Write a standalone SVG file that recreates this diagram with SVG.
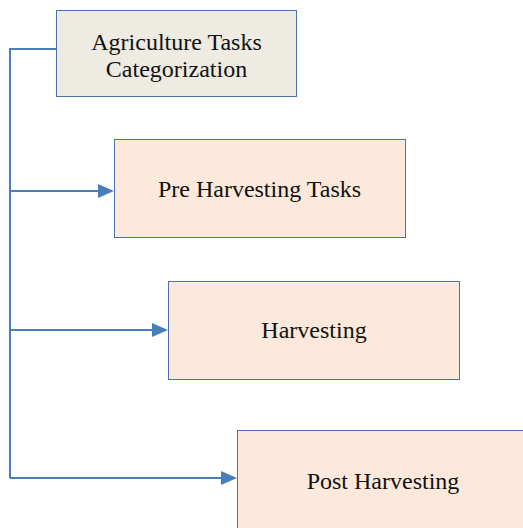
<svg xmlns="http://www.w3.org/2000/svg" width="523" height="528" viewBox="0 0 523 528">
  <style>
    .box { stroke: #4A72AE; stroke-width: 1; }
    .root { fill: #EDEBE2; }
    .task { fill: #FCE9DB; }
    .label { font-family: "Liberation Serif", "Times New Roman", serif; font-size: 24px; fill: #111; text-anchor: middle; }
    .wire { fill: none; stroke: #4A7EBB; stroke-width: 2; }
    .head { fill: #4A7EBB; }
  </style>
  <rect width="523" height="528" fill="#FFFFFF"/>

  <g id="connectors">
    <path class="wire" d="M56,49 H10 V478"/>
    <path class="wire" d="M10,191 H98"/>
    <path class="head" d="M98,184 L114,191 L98,198 z"/>
    <path class="wire" d="M10,330 H152"/>
    <path class="head" d="M152,323 L168,330 L152,337 z"/>
    <path class="wire" d="M10,478 H221"/>
    <path class="head" d="M221,471 L237,478 L221,485 z"/>
  </g>

  <g id="root">
    <rect class="box root" x="56.5" y="10.5" width="240" height="86"/>
    <text class="label" x="176.5" y="50">Agriculture Tasks</text>
    <text class="label" x="176.5" y="77">Categorization</text>
  </g>

  <g id="pre-harvesting">
    <rect class="box task" x="114.5" y="139.5" width="291" height="98"/>
    <text class="label" x="259.5" y="197">Pre Harvesting Tasks</text>
  </g>

  <g id="harvesting">
    <rect class="box task" x="168.5" y="281.5" width="291" height="98"/>
    <text class="label" x="314" y="338">Harvesting</text>
  </g>

  <g id="post-harvesting">
    <rect class="box task" x="237.5" y="430.5" width="291" height="98"/>
    <text class="label" x="383" y="489">Post Harvesting</text>
  </g>
</svg>
